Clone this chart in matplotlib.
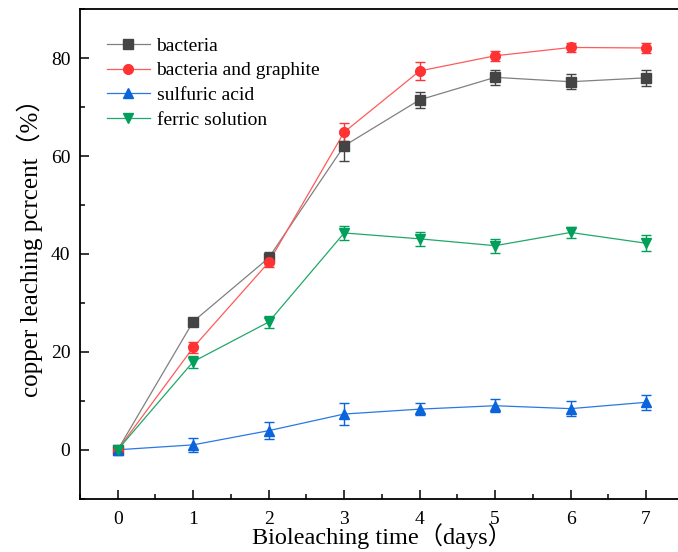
import matplotlib
matplotlib.use("Agg")
import matplotlib.pyplot as plt
from matplotlib.lines import Line2D
from matplotlib.ticker import MultipleLocator

plt.rcParams['font.family'] = ['Liberation Serif', 'Noto Sans CJK SC', 'DejaVu Sans']

days = [0, 1, 2, 3, 4, 5, 6, 7]
bacteria = [0, 26.2, 39.2, 62.1, 71.5, 76.1, 75.2, 76.0]
bacteria_err = [0.3, 0.6, 1.2, 3.0, 1.6, 1.5, 1.5, 1.6]
graphite = [0, 20.9, 38.3, 64.9, 77.4, 80.5, 82.2, 82.1]
graphite_err = [0.3, 1.2, 1.0, 1.8, 1.75, 1.0, 1.0, 1.1]
sulfuric = [0, 1.0, 3.9, 7.3, 8.3, 9.0, 8.4, 9.7]
sulfuric_err = [0.3, 1.5, 1.8, 2.2, 1.2, 1.3, 1.5, 1.5]
ferric = [0, 18.0, 26.1, 44.3, 43.1, 41.7, 44.4, 42.2]
ferric_err = [0.3, 1.2, 1.2, 1.4, 1.4, 1.4, 1.1, 1.6]

labels = ["bacteria", "bacteria and graphite", "sulfuric acid", "ferric solution"]
series = [bacteria, graphite, sulfuric, ferric]
errors = [bacteria_err, graphite_err, sulfuric_err, ferric_err]
markers = ["s", "o", "^", "v"]
mcolors = ["#444444", "#FF3333", "#0A64DC", "#00A05A"]
lcolors = ["#808080", "#FF5A5A", "#2A78E4", "#20A868"]

fig = plt.figure(figsize=(6.78, 5.52), dpi=100)
ax = fig.add_axes([80/678, (552-498.7)/552, (683.8-80)/678, (498.7-9.3)/552])

handles = []
for y, e, m, mc, lc, lab in zip(series, errors, markers, mcolors, lcolors, labels):
    ax.plot(days, y, color=lc, lw=0.9, zorder=2)
    ax.errorbar(days, y, yerr=e, fmt=m, color=mc, ms=7, ecolor=mc,
                elinewidth=1.0, capsize=3.5, capthick=1.0, zorder=3)
    handles.append(Line2D([0], [0], color=lc, lw=0.9, marker=m, ms=7,
                          markerfacecolor=mc, markeredgecolor=mc))

ax.set_xlim(-0.5, 7.5)
ax.set_ylim(-10, 90)
ax.xaxis.set_major_locator(MultipleLocator(1))
ax.xaxis.set_minor_locator(MultipleLocator(0.5))
ax.yaxis.set_major_locator(MultipleLocator(20))
ax.yaxis.set_minor_locator(MultipleLocator(10))
ax.tick_params(which='both', direction='in', top=False, right=False, width=1.1,
               labelsize=14)
ax.tick_params(which='major', length=6.7)
ax.tick_params(axis='x', which='major', pad=8.5)
ax.tick_params(axis='y', which='major', pad=7)
ax.tick_params(which='minor', length=3.4)
for s in ax.spines.values():
    s.set_linewidth(1.3)
ax.spines['right'].set_visible(False)

ax.set_xlabel("Bioleaching time（days）", fontsize=17.5)
ax.xaxis.label.set_va('center')
ax.xaxis.set_label_coords(0.5, -0.076)
ax.set_ylabel("copper leaching pcrcent（%）", fontsize=18)
ax.yaxis.label.set_va('center')
ax.yaxis.set_label_coords(-0.083, 0.524)

leg = ax.legend(handles, labels, loc='upper left', bbox_to_anchor=(0.025, 0.967),
                frameon=False, fontsize=14, handlelength=2.2, handletextpad=0.36,
                labelspacing=0.36, borderaxespad=0.2)

fig.savefig("out.png", dpi=100)
